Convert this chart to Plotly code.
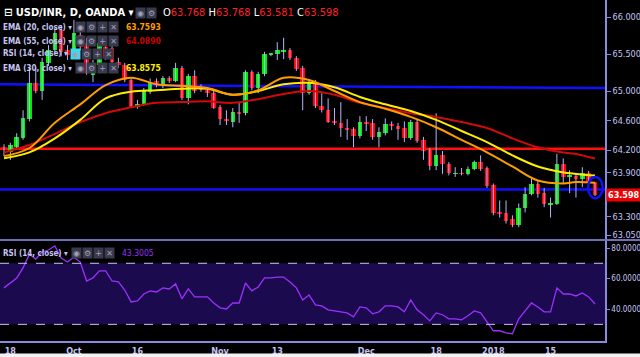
import plotly.graph_objects as go

# ---------------- data ----------------
open_ = [64.24,64.17,64.24,64.36,64.62,65.11,65.00,65.38,65.55,65.82,65.55,65.55,65.76,65.65,65.22,65.35,65.59,65.58,65.39,65.35,
         65.15,64.78,64.82,64.99,65.13,65.07,65.17,65.13,65.31,64.90,65.20,65.05,65.01,64.97,64.78,64.62,64.58,64.71,64.70,65.26,
         65.04,65.23,65.49,65.50,65.54,65.55,65.45,65.31,64.97,65.12,64.80,64.75,64.59,64.57,64.50,64.48,64.39,64.58,64.57,64.38,
         64.43,64.55,64.53,64.50,64.36,64.58,64.34,64.20,63.98,64.13,64.02,63.88,63.89,63.88,63.94,64.04,63.96,63.73,63.36,63.35,
         63.27,63.19,63.42,63.61,63.75,63.62,63.47,63.47,64.02,63.84,63.85,63.81,63.89,63.768]
high = [64.28,64.30,64.43,64.74,65.32,65.32,65.45,65.62,65.85,65.89,65.62,65.96,65.82,65.72,65.42,65.73,65.66,65.63,65.45,65.38,
        65.17,64.88,65.04,65.17,65.17,65.20,65.20,65.38,65.34,65.23,65.28,65.09,65.05,65.00,64.81,64.74,64.77,64.84,65.28,65.28,
        65.26,65.53,65.51,65.66,65.72,65.58,65.47,65.34,65.15,65.15,64.97,64.90,64.77,64.85,64.62,64.51,64.66,64.66,64.62,64.51,
        64.63,64.59,64.57,64.59,64.61,64.61,64.38,64.23,64.70,64.19,64.04,63.97,63.96,63.98,64.06,64.13,63.98,63.75,63.52,63.52,
        63.32,63.48,63.70,63.82,63.79,63.69,63.56,64.15,64.09,63.93,63.89,63.97,63.92,63.768]
low = [64.12,64.07,64.21,64.34,64.59,64.97,64.88,65.34,65.51,65.47,65.42,65.53,65.55,65.22,65.12,65.31,65.42,65.35,65.31,65.12,
       64.77,64.76,64.80,64.96,65.05,65.04,65.11,65.12,64.88,64.82,64.97,64.99,64.92,64.76,64.54,64.54,64.51,64.57,64.67,65.01,
       64.97,65.20,65.47,65.42,65.43,65.42,65.27,64.74,64.95,64.77,64.71,64.57,64.54,64.38,64.34,64.24,64.36,64.46,64.34,64.24,
       64.40,64.47,64.34,64.31,64.34,64.30,64.07,63.93,63.93,63.88,63.86,63.84,63.86,63.86,63.93,63.92,63.69,63.32,63.29,63.21,
       63.16,63.16,63.36,63.59,63.56,63.43,63.29,63.46,63.75,63.62,63.56,63.70,63.74,63.581]
close = [64.21,64.27,64.38,64.63,65.11,65.00,65.39,65.55,65.78,65.53,65.49,65.78,65.59,65.24,65.35,65.65,65.45,65.39,65.35,65.15,
         64.78,64.82,65.01,65.12,65.08,65.17,65.13,65.31,64.90,65.20,65.00,65.01,64.97,64.77,64.62,64.59,64.71,64.70,65.26,65.04,
         65.23,65.50,65.50,65.55,65.55,65.45,65.30,64.97,65.12,64.80,64.74,64.58,64.57,64.50,64.47,64.39,64.58,64.55,64.38,64.44,
         64.55,64.53,64.48,64.36,64.58,64.32,64.19,63.98,64.13,64.02,63.89,63.89,63.88,63.94,64.04,63.94,63.71,63.35,63.35,63.25,
         63.19,63.42,63.61,63.75,63.61,63.47,63.48,64.02,63.84,63.85,63.81,63.89,63.77,63.598]
rsi = [53.9,57.0,60.4,67.0,76.0,72.8,77.4,78.7,81.3,73.5,70.8,74.0,70.8,58.4,60.4,65.0,65.0,58.4,57.8,52.5,
       44.7,45.4,49.9,51.9,51.2,53.9,53.2,56.5,46.7,53.2,48.0,48.0,48.0,44.0,40.8,40.1,44.0,44.0,57.1,51.9,
       54.5,60.4,60.4,61.0,61.0,57.8,53.9,46.0,49.3,42.7,42.1,39.5,38.8,38.2,37.5,34.9,41.4,40.8,36.9,38.2,
       42.1,42.1,41.4,38.2,46.0,39.5,36.3,32.3,37.5,36.3,33.6,33.6,33.0,35.6,38.8,37.5,31.6,25.8,25.8,24.4,
       23.8,33.6,38.8,44.0,41.4,38.2,38.2,53.9,49.9,49.9,48.6,50.6,48.0,43.3005]

ema_idx = [0,4,8,12,16,20,24,28,32,36,40,44,48,52,56,60,64,68,72,76,80,84,88,90,93]
ema20 = [64.12,64.23,64.57,64.82,65.08,65.18,65.09,65.07,65.04,64.95,65.01,65.18,65.15,65.00,64.85,64.76,
         64.65,64.51,64.34,64.17,63.98,63.79,63.75,63.77,63.7593]
ema30 = [64.09,64.17,64.36,64.61,64.90,64.99,65.01,65.03,65.03,64.95,65.00,65.09,65.11,65.05,64.92,64.82,
         64.73,64.61,64.46,64.31,64.13,63.98,63.90,63.88,63.8575]
ema55 = [64.17,64.27,64.42,64.58,64.70,64.78,64.84,64.85,64.86,64.84,64.89,64.96,65.00,64.95,64.84,64.77,
         64.70,64.65,64.58,64.50,64.36,64.24,64.17,64.15,64.0890]

tick_index = [1, 11, 21, 34, 43, 57, 68, 77, 86]
tick_text = ["18", "Oct", "16", "Nov", "13", "Dec", "18", "2018", "15"]
price_ticks = [66.0, 65.5, 65.0, 64.6, 64.2, 63.9, 63.3, 63.05]
rsi_ticks = [80, 60, 40]
resistance_line = [65.09, 65.04]
pivot_line = [64.22, 64.22]
support_line = [63.67, 63.67]
rsi_band = [30, 70]

# ---------------- styling ----------------
W, H = 640, 357
PW, PH = 605, 341          # plot area in px
AX = "#8a8ae0"
TXT = "#c4c4f2"
COND = "DejaVu Sans Condensed, Liberation Sans Narrow, Liberation Sans, Arial"
GREEN = "#00ee00"
RED = "#ff0000"

def px(x):
    return x / PW

def py(y):
    return 1 - y / PH

n = len(close)
idx = list(range(n))

fig = go.Figure()

# wicks
wx, wy = [], []
for i in idx:
    wx += [i, i, None]
    wy += [low[i], high[i], None]
fig.add_trace(go.Scatter(x=wx, y=wy, mode="lines", line=dict(color="#b4b4ff", width=1),
                         hoverinfo="skip", showlegend=False, xaxis="x", yaxis="y"))

# bodies
MINB = 0.012
gx, gb, gh, rx, rb, rh = [], [], [], [], [], []
for i in idx:
    if close[i] >= open_[i]:
        gx.append(i); gb.append(open_[i]); gh.append(max(close[i] - open_[i], MINB))
    else:
        rx.append(i); rb.append(close[i]); rh.append(max(open_[i] - close[i], MINB))
fig.add_trace(go.Bar(x=gx, y=gh, base=gb, width=0.72, marker=dict(color=GREEN, line=dict(width=0)),
                     showlegend=False, xaxis="x", yaxis="y"))
fig.add_trace(go.Bar(x=rx, y=rh, base=rb, width=0.72, marker=dict(color=RED, line=dict(width=0)),
                     showlegend=False, xaxis="x", yaxis="y"))

# EMAs
fig.add_trace(go.Scatter(x=ema_idx, y=ema55, mode="lines", line=dict(color="#d00a0a", width=2, shape="spline"),
                         showlegend=False, xaxis="x", yaxis="y"))
fig.add_trace(go.Scatter(x=ema_idx, y=ema30, mode="lines", line=dict(color="#ffee00", width=2, shape="spline"),
                         showlegend=False, xaxis="x", yaxis="y"))
fig.add_trace(go.Scatter(x=ema_idx, y=ema20, mode="lines", line=dict(color="#ff9c00", width=2, shape="spline"),
                         showlegend=False, xaxis="x", yaxis="y"))

# RSI
fig.add_trace(go.Scatter(x=idx, y=rsi, mode="lines", line=dict(color="#9b30ff", width=1.3),
                         showlegend=False, xaxis="x2", yaxis="y2"))

shapes = []
shapes.append(dict(type="rect", xref="x2 domain", yref="y2", x0=0, x1=1, y0=rsi_band[0], y1=rsi_band[1],
                   fillcolor="#1c0a4e", line=dict(width=0), layer="below"))
for lv in rsi_band:
    shapes.append(dict(type="line", xref="x2 domain", yref="y2", x0=0, x1=1, y0=lv, y1=lv,
                       line=dict(color="#c8c0ff", width=1, dash="dash"), layer="above"))
shapes.append(dict(type="line", xref="x domain", yref="y", x0=0, x1=1, y0=resistance_line[0], y1=resistance_line[1],
                   line=dict(color="#1010ff", width=2.5), layer="below"))
shapes.append(dict(type="line", xref="x domain", yref="y", x0=0, x1=1, y0=pivot_line[0], y1=pivot_line[1],
                   line=dict(color="#ff1010", width=2.5), layer="below"))
shapes.append(dict(type="line", xref="x domain", yref="y", x0=0, x1=1, y0=support_line[0], y1=support_line[1],
                   line=dict(color="#1010ff", width=2.5), layer="below"))
last = n - 1
shapes.append(dict(type="circle", xref="x", yref="y", x0=last - 1.1, x1=last + 1.2,
                   y0=low[last] - 0.03, y1=high[last] + 0.07, line=dict(color="#1010ff", width=2.5)))
shapes.append(dict(type="line", xref="paper", yref="paper", x0=0, x1=W / PW, y0=py(240), y1=py(240),
                   line=dict(color="#7070b8", width=2)))
shapes.append(dict(type="rect", xref="paper", yref="paper", x0=0, x1=W / PW, y0=py(357), y1=py(353.5),
                   fillcolor="#f2f2f2", line=dict(width=0)))

ann = []

def text(x, y, s, color=TXT, size=8, family=COND, bold=True):
    ann.append(dict(xref="paper", yref="paper", x=px(x), y=py(y), xanchor="left", yanchor="middle",
                    text=("<b>%s</b>" % s) if bold else s, showarrow=False,
                    font=dict(color=color, size=size, family=family)))

def buttons(x, y, glyphs, first_bg="#3a3a4e"):
    for k, g in enumerate(glyphs):
        bg = first_bg if k == 0 else "#3a3a4e"
        ann.append(dict(xref="paper", yref="paper", x=px(x + k * 11), y=py(y), xanchor="left", yanchor="middle",
                        text=g, showarrow=False, bgcolor=bg, width=9, height=10, borderpad=0,
                        font=dict(color="#a0a0b8", size=8, family="DejaVu Sans")))

GL = ["◉", "⚙", "+", "✕"]

text(2, 13, "⊟ USD/INR, D, OANDA ▾", color="#ffffff", size=11, family=COND)
buttons(135, 13, ["◉", "⚙"])
ohlc = ("O<span style='color:#ff2020'>63.768</span> H<span style='color:#ff2020'>63.768</span> "
        "L<span style='color:#ff2020'>63.581</span> C<span style='color:#ff2020'>63.598</span>")
text(161, 13, ohlc, color="#ffffff", size=11, family=COND, bold=False)

text(1, 27, "EMA (20, close) ▾")
buttons(75, 27, GL)
text(124, 27, "63.7593", color="#ff9c00", size=8.5)
text(1, 41, "EMA (55, close) ▾")
buttons(75, 41, GL)
text(124, 41, "64.0890", color="#c80000", size=8.5)
text(1, 54, "RSI (14, close) ▾")
buttons(70, 54, GL, first_bg="#40d8ee")
text(1, 68, "EMA (30, close) ▾")
buttons(75, 68, GL)
text(124, 68, "63.8575", color="#ffee00", size=8.5)

text(1, 253, "RSI (14, close) ▾")
buttons(71, 253, GL)
text(120, 253, "43.3005", color="#9b30ff", size=8.5, bold=False)

ann.append(dict(xref="paper", yref="y", x=px(606), y=close[last], xanchor="left", yanchor="middle",
                text="<b>63.598</b>", showarrow=False, bgcolor="#ee0000", borderpad=1,
                font=dict(color="#ffffff", size=9, family=COND)))

fig.update_layout(
    width=W, height=H, margin=dict(l=0, r=W - PW, t=0, b=H - PH, autoexpand=False),
    paper_bgcolor="#000000", plot_bgcolor="#000000",
    barmode="overlay", bargap=0, showlegend=False,
    xaxis=dict(domain=[0, 1], anchor="y", range=[-0.63, 94.57], showgrid=False, zeroline=False,
               showticklabels=False, showline=False),
    xaxis2=dict(domain=[0, 1], anchor="y2", matches="x", range=[-0.63, 94.57], showgrid=False, zeroline=False,
                tickmode="array", tickvals=tick_index, ticktext=["<b>%s</b>" % t for t in tick_text],
                ticks="", tickfont=dict(color=TXT, size=9, family=COND),
                showline=True, linecolor=AX, linewidth=1.5),
    yaxis=dict(domain=[py(239), 1], anchor="x", side="right", range=[63.0, 66.23], showgrid=False,
               zeroline=False, tickmode="array", tickvals=price_ticks,
               ticktext=["%.3f" % v for v in price_ticks], ticks="outside", ticklen=4, tickcolor=AX,
               tickfont=dict(color=TXT, size=9, family=COND), showline=True, linecolor=AX, linewidth=1.5),
    yaxis2=dict(domain=[0, py(241)], anchor="x2", side="right", range=[19.1, 84.6], showgrid=False,
                zeroline=False, tickmode="array", tickvals=rsi_ticks,
                ticktext=["%.4f" % v for v in rsi_ticks], ticks="outside", ticklen=3, tickcolor=AX,
                tickfont=dict(color=TXT, size=8, family=COND), showline=True, linecolor=AX, linewidth=1.5),
    shapes=shapes, annotations=ann,
)

fig.write_html("out.html", config={"displayModeBar": False},
               post_script="document.body.style.margin='0px';document.body.style.overflow='hidden';")
